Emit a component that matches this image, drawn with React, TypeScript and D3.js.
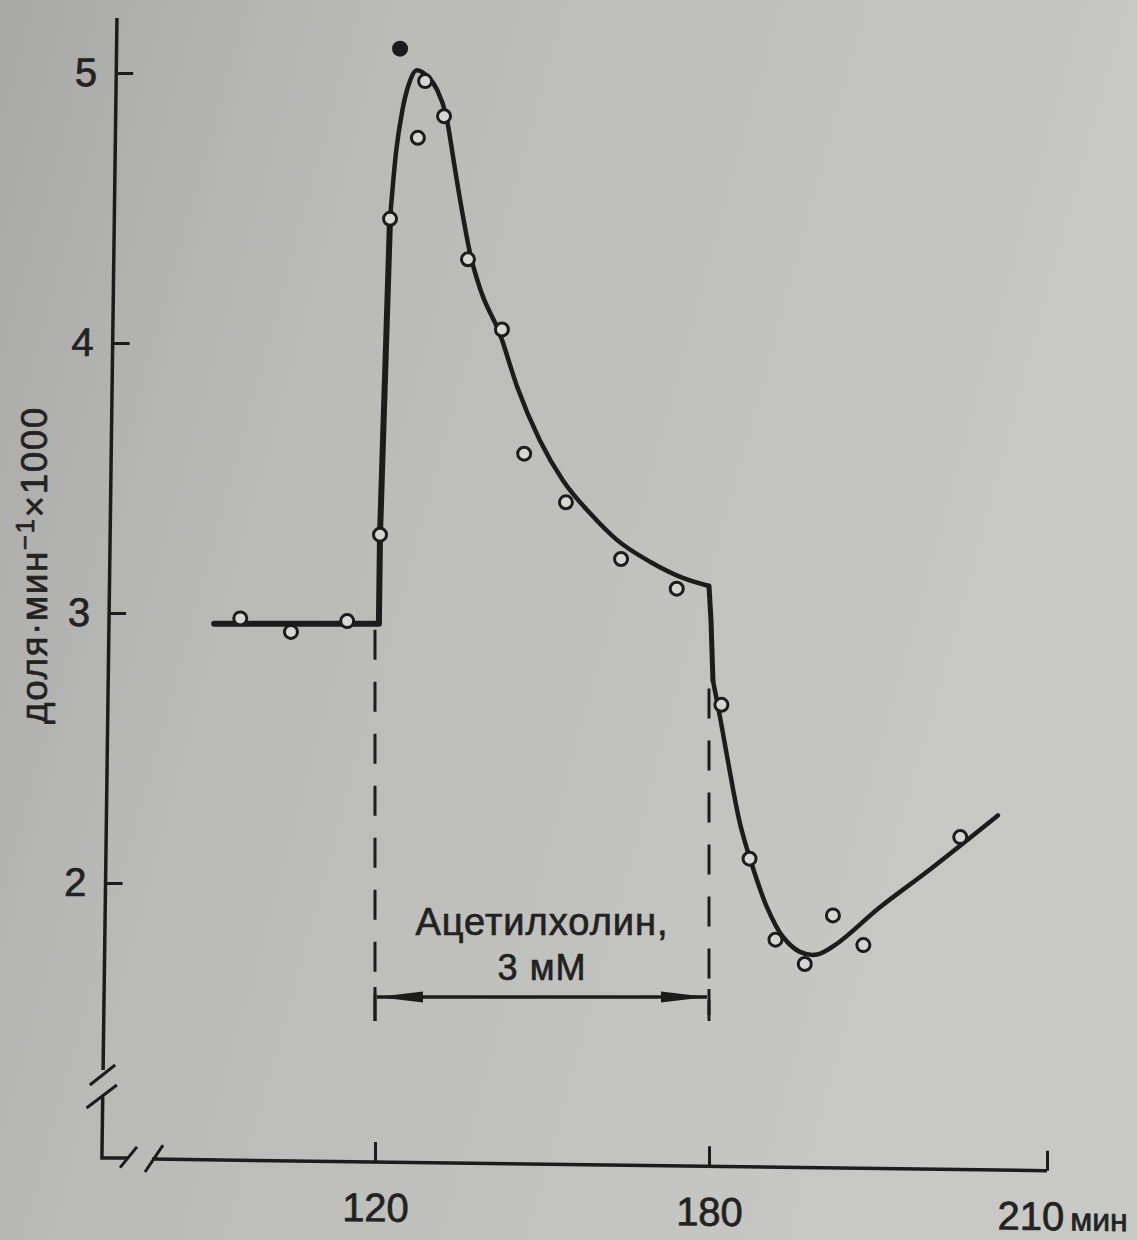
import React, { useRef, useEffect } from "react";
import * as d3 from "d3";

// axis ticks
const timeTicks = [120, 180, 210];
const timeTickLabels = ["120", "180", "210"];
const rateTicks = [2, 3, 4, 5];

// measured points (open circles)
const obsTime = [95.8, 104.9, 115.0, 120.9, 122.7, 127.7, 129.0, 132.4, 136.7, 142.8, 146.8, 154.3, 164.2, 174.2, 181.1, 183.6, 185.9, 188.5, 191.0, 193.7, 202.3];
const obsRate = [2.98, 2.93, 2.97, 3.29, 4.46, 4.76, 4.97, 4.84, 4.31, 4.05, 3.59, 3.41, 3.20, 3.09, 2.66, 2.09, 1.79, 1.70, 1.88, 1.77, 2.17];

// filled dot above the peak
const dotTime = [124.5];
const dotRate = [5.09];

// fitted curve, piece by piece
const baseTime = [91.1, 120.7];
const baseRate = [2.96, 2.96];
const jumpTime = [120.7, 120.9, 122.7];
const jumpRate = [2.96, 3.29, 4.46];
const decayTime = [122.7, 123.8, 124.9, 126.1, 127.5, 129.3, 131.1, 132.8, 134.4, 135.8, 137.1, 138.9, 142.5, 145.5, 149.6, 153.8, 158.6, 163.5, 169.4, 175.3, 180];
const decayRate = [4.46, 4.71, 4.86, 4.96, 5.01, 4.99, 4.94, 4.84, 4.64, 4.47, 4.33, 4.20, 4.03, 3.84, 3.64, 3.49, 3.37, 3.27, 3.19, 3.13, 3.10];
const fallTime = [180, 180.18, 180.35];
const fallRate = [3.10, 2.97, 2.75];
const dropTime = [180.35, 181.0, 181.6, 182.75, 183.64, 185.15, 186.57, 188.07, 189.58, 191.35, 195.17, 199.61, 205.64];
const dropRate = [2.75, 2.61, 2.47, 2.22, 2.09, 1.91, 1.80, 1.745, 1.735, 1.775, 1.91, 2.05, 2.25];

// acetylcholine period
const drugStart = 120;
const drugEnd = 180;

const W = 1137;
const H = 1240;
const FONT = "'Liberation Sans', Arial, sans-serif";
const INK = "#1c1c1c";
const TEXT = "#222";

const x = d3.scaleLinear().domain(timeTicks).range([375, 709, 1047]);
const y = d3.scaleLinear().domain([2, 5]).range([883, 73]);

const App = () => {
  const xAxisRef = useRef<SVGGElement>(null);
  const yAxisRef = useRef<SVGGElement>(null);

  useEffect(() => {
    // x axis (slightly tilted like the print)
    const gx = d3.select(xAxisRef.current);
    gx.selectAll("*").remove();
    gx.call(
      d3.axisBottom(x)
        .tickValues(timeTicks)
        .tickSize(-20)
        .tickPadding(31)
        .tickFormat((d, i) => timeTickLabels[i])
    );
    gx.select(".domain").remove();
    gx.attr("font-family", FONT).attr("font-size", 40);
    gx.selectAll(".tick line").attr("stroke", INK).attr("stroke-width", 3);
    gx.selectAll(".tick text").attr("fill", TEXT).attr("stroke", TEXT).attr("stroke-width", 0.7);
    const last = gx.selectAll(".tick text").filter((d, i) => i === timeTicks.length - 1);
    last.attr("text-anchor", "start").attr("x", -50);
    last.append("tspan").attr("dx", 6).attr("font-size", 32).text("мин");
    gx.append("line")
      .attr("x1", 152).attr("x2", x(210))
      .attr("stroke", INK).attr("stroke-width", 3.5);
    gx.append("path").attr("d", "M120,9L137,-12M145,13L163,-14")
      .attr("stroke", INK).attr("stroke-width", 3).attr("fill", "none");

    // y axis
    const gy = d3.select(yAxisRef.current);
    gy.selectAll("*").remove();
    gy.call(
      d3.axisLeft(y)
        .tickValues(rateTicks)
        .tickSize(-17)
        .tickPadding(19)
        .tickFormat(d3.format("d"))
    );
    gy.select(".domain").remove();
    gy.attr("font-family", FONT).attr("font-size", 40);
    gy.selectAll(".tick line").attr("stroke", INK).attr("stroke-width", 3);
    gy.selectAll(".tick text").attr("fill", TEXT).attr("stroke", TEXT).attr("stroke-width", 0.7);
    gy.append("path")
      .attr("d", "M0,18V1070M0,1097V1158H26")
      .attr("stroke", INK).attr("stroke-width", 3.5).attr("fill", "none");
    gy.append("path")
      .attr("d", "M-13,1085L12,1065M-16,1108L14,1085")
      .attr("stroke", INK).attr("stroke-width", 3).attr("fill", "none");
  }, []);

  const line = d3.line<[number, number]>()
    .x(d => x(d[0]))
    .y(d => y(d[1]));
  const smooth = d3.line<[number, number]>()
    .x(d => x(d[0]))
    .y(d => y(d[1]))
    .curve(d3.curveMonotoneX);
  const smoothRound = d3.line<[number, number]>()
    .x(d => x(d[0]))
    .y(d => y(d[1]))
    .curve(d3.curveCatmullRom.alpha(0.5));

  const pts = d3.zip(obsTime, obsRate) as [number, number][];
  const arrowY = 997;
  const guideBottom = 1021;
  const mid = (x(drugStart) + x(drugEnd)) / 2;

  return (
    <svg width={W} height={H} style={{ position: "absolute", left: 0, top: 0 }}>
      <defs>
        <linearGradient id="bg" x1="0" y1="0" x2="1" y2="0.3">
          <stop offset="0" stopColor="#a8a8a6" />
          <stop offset="0.3" stopColor="#b9b9b6" />
          <stop offset="1" stopColor="#c8c8c4" />
        </linearGradient>
        <marker id="head" viewBox="0 0 46 12" markerWidth={46} markerHeight={12}
          refX={46} refY={6} markerUnits="userSpaceOnUse" orient="auto-start-reverse">
          <path d="M0,0.5L46,6L0,11.5Z" fill={INK} />
        </marker>
      </defs>
      <rect width={W} height={H} fill="url(#bg)" />

      {/* y axis label */}
      <text transform="translate(47,565) rotate(-90)" textAnchor="middle"
        fontFamily={FONT} fontSize={37} fill={TEXT} stroke={TEXT} strokeWidth={0.6} letterSpacing={1.5}>
        доля·мин<tspan dy={-13} fontSize={26}>−1</tspan><tspan dy={13}>×1000</tspan>
      </text>

      <g ref={yAxisRef} transform="translate(117.2,0) skewX(-0.756)" />
      <g ref={xAxisRef} transform="translate(0,1157.1) skewY(0.745)" />

      {/* dashed guides for the drug period */}
      <line x1={x(drugStart)} x2={x(drugStart)} y1={y(baseRate[1]) + 6} y2={guideBottom}
        stroke={INK} strokeWidth={3} strokeDasharray="30 22" />
      <line x1={x(drugEnd)} x2={x(drugEnd)} y1={y(fallRate[fallRate.length - 1]) + 8} y2={guideBottom}
        stroke={INK} strokeWidth={3} strokeDasharray="30 22" />

      {/* arrow + label */}
      <line x1={x(drugStart) + 2} x2={x(drugEnd) - 2} y1={arrowY} y2={arrowY}
        stroke={INK} strokeWidth={3.5} markerStart="url(#head)" markerEnd="url(#head)" />
      <line x1={x(drugStart)} x2={x(drugStart)} y1={arrowY - 10} y2={guideBottom} stroke={INK} strokeWidth={3} />
      <line x1={x(drugEnd)} x2={x(drugEnd)} y1={arrowY - 8} y2={guideBottom - 6} stroke={INK} strokeWidth={3} />
      <text x={mid} y={935} textAnchor="middle"
        fontFamily={FONT} fontSize={38} fill={TEXT} stroke={TEXT} strokeWidth={0.7} letterSpacing={1}>Ацетилхолин,</text>
      <text x={mid} y={980} textAnchor="middle"
        fontFamily={FONT} fontSize={36} fill={TEXT} stroke={TEXT} strokeWidth={0.7} letterSpacing={1}>3 мМ</text>

      {/* fitted curve */}
      <path d={line(d3.zip(baseTime, baseRate) as [number, number][]) || ""}
        fill="none" stroke={INK} strokeWidth={6} strokeLinecap="round" />
      <path d={line(d3.zip(jumpTime, jumpRate) as [number, number][]) || ""}
        fill="none" stroke={INK} strokeWidth={6} strokeLinejoin="round" />
      <path d={smooth(d3.zip(decayTime, decayRate) as [number, number][]) || ""}
        fill="none" stroke={INK} strokeWidth={4.5} strokeLinejoin="round" />
      <path d={line(d3.zip(fallTime, fallRate) as [number, number][]) || ""}
        fill="none" stroke={INK} strokeWidth={5} strokeLinejoin="round" strokeLinecap="round" />
      <path d={smoothRound(d3.zip(dropTime, dropRate) as [number, number][]) || ""}
        fill="none" stroke={INK} strokeWidth={4.5} strokeLinecap="round" />

      {/* data points */}
      {pts.map((d, i) => (
        <circle key={i} cx={x(d[0])} cy={y(d[1])} r={6.5}
          fill="#d6d6d2" stroke={INK} strokeWidth={3} />
      ))}
      {dotTime.map((t, i) => (
        <circle key={"f" + i} cx={x(t)} cy={y(dotRate[i])} r={8} fill={INK} />
      ))}
    </svg>
  );
};

export default App;
